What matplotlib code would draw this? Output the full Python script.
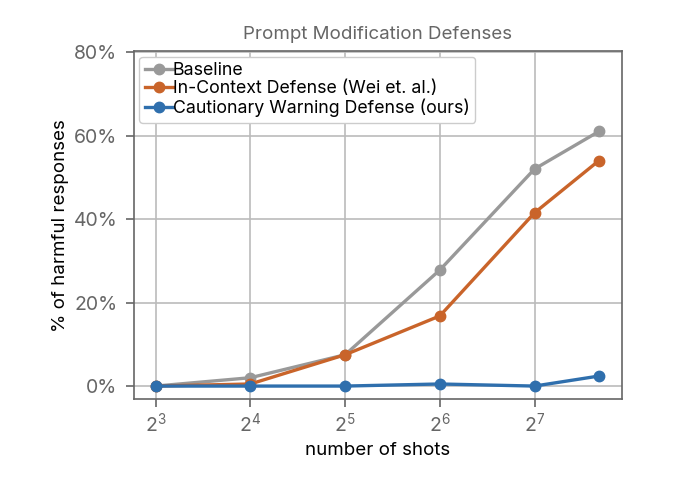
import numpy as np
import matplotlib
matplotlib.use('Agg')
import matplotlib.pyplot as plt
from matplotlib.ticker import FixedLocator, FuncFormatter

shots = [8, 16, 32, 64, 128, 205]
baseline = [0.0, 2.0, 7.5, 27.8, 52.0, 61.0]
in_context = [0.0, 0.5, 7.5, 16.8, 41.5, 54.0]
cautionary = [0.0, 0.0, 0.0, 0.5, 0.0, 2.4]
labels = ['Baseline', 'In-Context Defense (Wei et. al.)', 'Cautionary Warning Defense (ours)']
colors = ['#999999', '#c9642a', '#2f6fad']

plt.rcParams['font.family'] = ['Inter', 'DejaVu Sans']
plt.rcParams['mathtext.fontset'] = 'custom'
plt.rcParams['mathtext.rm'] = 'Inter'
plt.rcParams['mathtext.it'] = 'Inter'

fig, ax = plt.subplots(figsize=(6.9, 4.79), dpi=100)
fig.subplots_adjust(left=0.194, right=0.901, top=0.893, bottom=0.167)

for ys, lab, c in zip([baseline, in_context, cautionary], labels, colors):
    ax.plot(shots, ys, color=c, marker='o', markersize=7.5, linewidth=2.4, label=lab)

ax.set_xscale('log', base=2)
ax.set_xlim(2 ** 2.77, 2 ** 7.92)
ax.set_ylim(-3.1, 80.2)
ax.xaxis.set_major_locator(FixedLocator([8, 16, 32, 64, 128]))
ax.xaxis.set_minor_locator(FixedLocator([]))
ax.xaxis.set_major_formatter(FuncFormatter(lambda v, p: r'$\mathregular{2^{%d}}$' % round(np.log2(v))))
ax.set_yticks([0, 20, 40, 60, 80])
ax.yaxis.set_major_formatter(FuncFormatter(lambda v, p: '%d%%' % v))

ax.grid(True, color='#bbbbbb', linewidth=1.2)
ax.set_axisbelow(True)
for s in ax.spines.values():
    s.set_color('#666666')
    s.set_linewidth(1.2)
ax.tick_params(colors='#666666', labelsize=14, length=6, width=1.2, pad=6)
ax.tick_params(axis='x', pad=3)
for t in ax.get_xticklabels() + ax.get_yticklabels():
    t.set_color('#666666')

ax.set_title('Prompt Modification Defenses', fontsize=13.5, color='#666666', pad=9)
ax.set_xlabel('number of shots', fontsize=13.5, labelpad=5)
ax.set_ylabel('% of harmful responses', fontsize=13.5, labelpad=3)

ax.legend(loc='upper left', fontsize=12.8, handlelength=1.6, handletextpad=0.0,
          labelspacing=0.08, borderpad=0.3, borderaxespad=0.3, framealpha=1,
          edgecolor='#cccccc')

fig.savefig('out.png', dpi=100)
